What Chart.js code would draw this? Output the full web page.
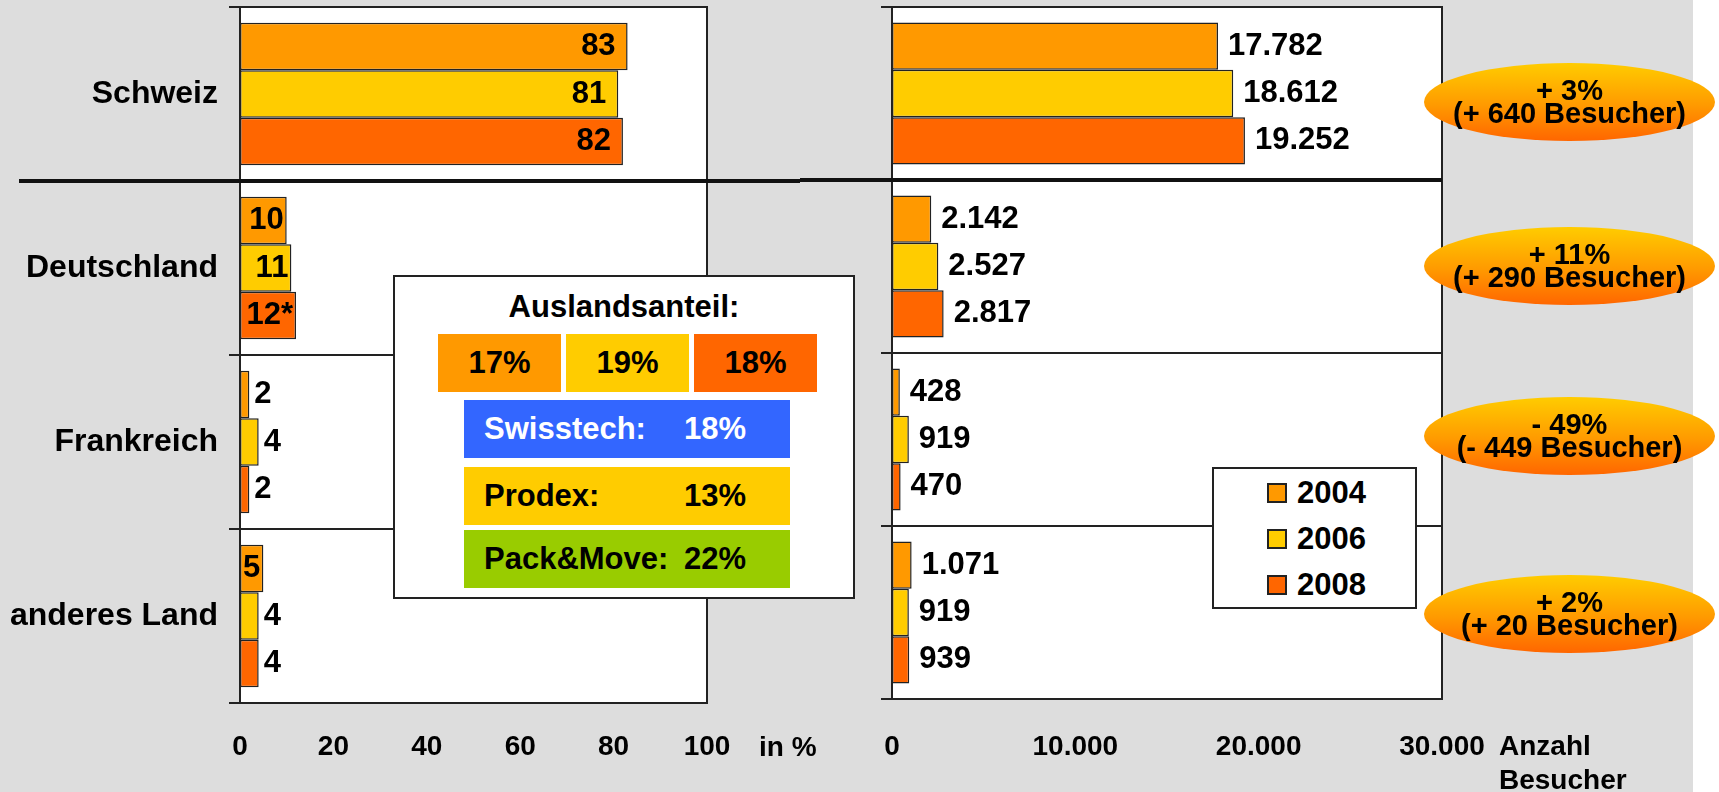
<!DOCTYPE html>
<html>
<head>
<meta charset="utf-8">
<title>Besucher nach Herkunft</title>
<script src="https://cdn.jsdelivr.net/npm/chart.js@4.4.1/dist/chart.umd.min.js"></script>
<style>
  body { margin: 0; background: #fff; font-family: "Liberation Sans", Arial, sans-serif; font-weight: bold; color: #000; }
  #stage { position: relative; width: 1719px; height: 792px; overflow: hidden; }
  #grey { position: absolute; left: 0; top: 0; width: 1693px; height: 792px; background: #dddddd; }
  canvas { position: absolute; top: 0; }
  .abs { position: absolute; }
  .box { background: #fff; border: 2px solid #222; box-sizing: border-box; }
  .cell { font-size: 31px; line-height: 58px; height: 58px; }
  .oval {
    position: absolute; width: 291px; height: 78px; border-radius: 50%;
    background: linear-gradient(to bottom, #ffcc00 0%, #ff9900 55%, #ff6600 100%);
    display: flex; flex-direction: column; align-items: center; justify-content: center;
    font-size: 29px; line-height: 23px; white-space: nowrap;
  }
</style>
</head>
<body>
<div id="stage">
  <div id="grey"></div>
  <canvas id="shareChart" width="800" height="792" style="left:0"></canvas>
  <canvas id="visitorChart" width="919" height="792" style="left:800px"></canvas>
  <div id="notes"></div>
</div>
<script>
// Besucher nach Herkunftsland, Anteil in % und absolute Zahlen

const categories = ['Schweiz', 'Deutschland', 'Frankreich', 'anderes Land'];
const years = ['2004', '2006', '2008'];
const yearColors = ['#FF9900', '#FFCC00', '#FF6600'];

// Anteil in %
const share2004 = [83, 10, 2, 5];
const share2006 = [81, 11, 4, 4];
const share2008 = [82, 12, 2, 4];
const shareNotes2008 = ['', '*', '', ''];

// Anzahl Besucher
const visitors2004 = [17782, 2142, 428, 1071];
const visitors2006 = [18612, 2527, 919, 919];
const visitors2008 = [19252, 2817, 470, 939];

// axis ranges
const shareMax = 100;
const shareStep = 20;
const visitorMax = 30000;
const visitorStep = 10000;

// Auslandsanteil box
const foreignShare = ['17%', '19%', '18%'];
const competitors = ['Swisstech:', 'Prodex:', 'Pack&Move:'];
const competitorShare = ['18%', '13%', '22%'];
const competitorColors = ['#3366FF', '#FFCC00', '#99CC00'];
const competitorText = ['#fff', '#000', '#000'];

// change 2006 -> 2008
const changePct = ['+ 3%', '+ 11%', '- 49%', '+ 2%'];
const changeVisitors = ['(+ 640 Besucher)', '(+ 290 Besucher)', '(- 449 Besucher)', '(+ 20 Besucher)'];

const FONT = '"Liberation Sans", Arial, sans-serif';
Chart.defaults.color = '#000';
Chart.defaults.font.family = FONT;
Chart.defaults.font.weight = 'bold';

// 12345 -> "12.345"
function fmt(n) {
  return String(n).replace(/\B(?=(\d{3})+(?!\d))/g, '.');
}

// white plot area, top/right frame and the thick line under "Schweiz"
const panelFrame = {
  id: 'panelFrame',
  beforeDraw(chart) {
    const a = chart.chartArea;
    const ctx = chart.ctx;
    ctx.save();
    ctx.fillStyle = '#fff';
    ctx.fillRect(a.left, a.top, a.right - a.left, a.bottom - a.top);
    ctx.restore();
  },
  afterDraw(chart, args, opts) {
    const a = chart.chartArea;
    const ctx = chart.ctx;
    const y = chart.scales.y;
    ctx.save();
    ctx.strokeStyle = '#222';
    ctx.lineWidth = 2;
    ctx.beginPath();
    ctx.moveTo(a.left, a.top);
    ctx.lineTo(a.right, a.top);
    ctx.lineTo(a.right, a.bottom);
    ctx.stroke();
    const sep = (y.getPixelForValue(0) + y.getPixelForValue(1)) / 2;
    ctx.lineWidth = 4;
    ctx.strokeStyle = '#111';
    ctx.beginPath();
    ctx.moveTo(opts.from, sep);
    ctx.lineTo(opts.to === 'right' ? a.right : chart.width, sep);
    ctx.stroke();
    ctx.restore();
  }
};

// value labels next to / inside the bars
const valueLabels = {
  id: 'valueLabels',
  afterDatasetsDraw(chart, args, opts) {
    const ctx = chart.ctx;
    ctx.save();
    ctx.font = 'bold 31px ' + FONT;
    ctx.fillStyle = '#000';
    ctx.textBaseline = 'middle';
    chart.data.datasets.forEach((ds, di) => {
      chart.getDatasetMeta(di).data.forEach((bar, i) => {
        const v = ds.data[i];
        const text = opts.text(v, di, i);
        const w = bar.x - bar.base;
        if (opts.mode === 'share' && w > 100) {
          ctx.textAlign = 'right';
          ctx.fillText(text, bar.x - 12, bar.y);
        } else if (opts.mode === 'share' && v >= 5) {
          ctx.textAlign = 'right';
          ctx.fillText(text, bar.x - 3, bar.y);
        } else {
          ctx.textAlign = 'left';
          ctx.fillText(text, bar.x + (opts.mode === 'share' ? 5 : 10), bar.y);
        }
      });
    });
    ctx.restore();
  }
};

function makeDatasets(series) {
  return series.map((data, i) => ({
    label: years[i],
    data: data,
    backgroundColor: yearColors[i],
    borderColor: '#222',
    borderWidth: 1.5,
    borderSkipped: false,
    categoryPercentage: 0.82,
    barPercentage: 1.0
  }));
}

function yAxis(showLabels, width) {
  return {
    offset: true,
    grid: { offset: true, color: '#222', lineWidth: 2, drawTicks: true, tickLength: 11 },
    border: { display: true, color: '#222', width: 2 },
    ticks: { display: showLabels, padding: 11, font: { size: 32, weight: 'bold' }, color: '#000' },
    afterFit(scale) {
      scale.width = width;
      // labels sit in the middle of the bands, no extra room needed
      scale.paddingTop = 0;
      scale.paddingBottom = 0;
    }
  };
}

function xAxis(max, step, height, pad, cb) {
  return {
    type: 'linear',
    min: 0,
    max: max,
    grid: { display: false, drawTicks: false },
    border: { display: true, color: '#222', width: 2 },
    ticks: {
      stepSize: step,
      autoSkip: false,
      maxRotation: 0,
      padding: pad,
      font: { size: 28, weight: 'bold' },
      color: '#000',
      callback: cb
    },
    afterFit(scale) {
      scale.height = height;
      scale.paddingLeft = 0;
      scale.paddingRight = 0;
    }
  };
}

new Chart(document.getElementById('shareChart'), {
  type: 'bar',
  data: { labels: categories, datasets: makeDatasets([share2004, share2006, share2008]) },
  options: {
    indexAxis: 'y',
    responsive: false,
    animation: false,
    layout: { padding: { left: 0, top: 7, right: 93, bottom: 0 } },
    scales: {
      y: yAxis(true, 240),
      x: xAxis(shareMax, shareStep, 89, 27, v => v)
    },
    plugins: {
      legend: { display: false },
      tooltip: { enabled: false },
      panelFrame: { from: 19, to: 'edge' },
      valueLabels: {
        mode: 'share',
        text: (v, di, i) => String(v) + (di === 2 ? shareNotes2008[i] : '')
      }
    }
  },
  plugins: [panelFrame, valueLabels]
});

new Chart(document.getElementById('visitorChart'), {
  type: 'bar',
  data: { labels: categories, datasets: makeDatasets([visitors2004, visitors2006, visitors2008]) },
  options: {
    indexAxis: 'y',
    responsive: false,
    animation: false,
    layout: { padding: { left: 0, top: 7, right: 277, bottom: 0 } },
    scales: {
      y: yAxis(false, 92),
      x: xAxis(visitorMax, visitorStep, 93, 31, v => fmt(v))
    },
    plugins: {
      legend: { display: false },
      tooltip: { enabled: false },
      panelFrame: { from: 0, to: 'right' },
      valueLabels: { mode: 'visitors', text: v => fmt(v) }
    }
  },
  plugins: [panelFrame, valueLabels]
});

// annotations: real text in html on top of the canvases
const notes = document.getElementById('notes');
function add(html, style, cls) {
  const d = document.createElement('div');
  d.className = 'abs ' + (cls || '');
  d.style.cssText = style;
  d.innerHTML = html;
  notes.appendChild(d);
  return d;
}

// axis units
add('in %', 'left:759px;top:730px;font-size:28px;line-height:34px;');
add('Anzahl<br>Besucher', 'left:1499px;top:729px;font-size:28px;line-height:34px;');

// Auslandsanteil
add('', 'left:393px;top:275px;width:462px;height:324px;', 'box');
add('Auslandsanteil:', 'left:393px;top:289px;width:462px;text-align:center;font-size:31px;line-height:36px;');
const shareBoxLeft = [438, 566, 694];
foreignShare.forEach((t, i) => {
  add(t, 'left:' + shareBoxLeft[i] + 'px;top:334px;width:123px;text-align:center;background:' + yearColors[i] + ';', 'cell');
});
const compTop = [400, 467, 530];
competitors.forEach((name, i) => {
  add('<span style="display:inline-block;width:200px">' + name.replace('&', '&amp;') + '</span>' + competitorShare[i],
      'left:464px;top:' + compTop[i] + 'px;width:306px;padding-left:20px;background:' + competitorColors[i] + ';color:' + competitorText[i] + ';white-space:nowrap;', 'cell');
});

// legend
add('', 'left:1212px;top:467px;width:205px;height:142px;', 'box');
const legendRow = [493, 539, 585];
years.forEach((y, i) => {
  add('', 'left:1267px;top:' + (legendRow[i] - 10) + 'px;width:20px;height:20px;box-sizing:border-box;border:2px solid #222;background:' + yearColors[i] + ';');
  add(y, 'left:1297px;top:' + (legendRow[i] - 18) + 'px;font-size:31px;line-height:36px;');
});

// change ovals
const ovalTop = [63, 227, 397, 575];
changePct.forEach((p, i) => {
  const o = document.createElement('div');
  o.className = 'oval';
  o.style.left = '1424px';
  o.style.top = ovalTop[i] + 'px';
  o.innerHTML = '<div>' + p + '</div><div>' + changeVisitors[i] + '</div>';
  notes.appendChild(o);
});
</script>
</body>
</html>
